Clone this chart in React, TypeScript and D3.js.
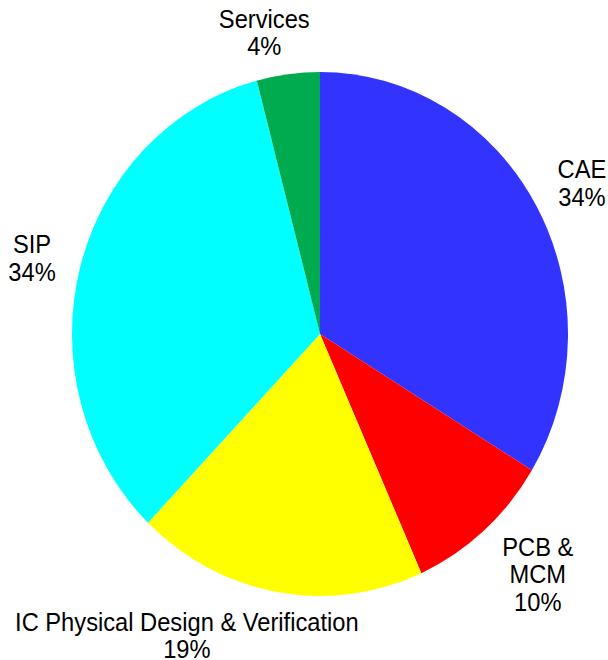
import * as d3 from 'd3'

const categories = ['CAE', 'PCB & MCM', 'IC Physical Design & Verification', 'SIP', 'Services']
const values = [33.7, 9.6, 18.9, 33.7, 4.1]
const percentLabels = ['34%', '10%', '19%', '34%', '4%']
const labelLines = [['CAE'], ['PCB &', 'MCM'], ['IC Physical Design & Verification'], ['SIP'], ['Services']]
const colors = ['#3333FF', '#FF0000', '#FFFF00', '#00FFFF', '#00AA4F']
// small nudges so labels sit where the original placed them
const labelNudges: Array<[number, number]> = [[2.5, 3], [21, 4], [-82, -8.5], [0, 3], [-17.5, 10]]

const width = 608
const height = 660
const cx = 320
const cy = 334
const rx = 248
const ry = 262
const stretch = ry / rx // the original is slightly taller than wide
const fontSize = 23.7
const lineHeight = 26

export default function App() {
  const pie = d3.pie<number>().sort(null).value(d => d)
  const arcs = pie(values)
  const arc = d3.arc<d3.PieArcDatum<number>>().innerRadius(0).outerRadius(rx)
  const labelK = 1.2

  return (
    <svg
      width={width}
      height={height}
      style={{ position: 'absolute', left: 0, top: 0, background: '#fff' }}
      fontFamily="'Liberation Sans', Arial, sans-serif"
    >
      <g transform={`translate(${cx},${cy}) scale(1,${stretch})`}>
        {arcs.map((a, i) => (
          <path key={categories[i]} d={arc(a) || ''} fill={colors[i]} />
        ))}
      </g>
      {arcs.map((a, i) => {
        const mid = (a.startAngle + a.endAngle) / 2
        const x = cx + Math.sin(mid) * rx * labelK + labelNudges[i][0]
        const y = cy - Math.cos(mid) * ry * labelK + labelNudges[i][1]
        const lines = [...labelLines[i], percentLabels[i]]
        const top = -((lines.length - 1) * lineHeight) / 2
        return (
          <g key={categories[i]} transform={`translate(${x},${y}) scale(1,${stretch})`}>
            <text textAnchor="middle" fontSize={fontSize} fill="#000" dominantBaseline="central">
              {lines.map((t, j) => (
                <tspan key={j} x={0} y={top + j * lineHeight}>{t}</tspan>
              ))}
            </text>
          </g>
        )
      })}
    </svg>
  )
}
